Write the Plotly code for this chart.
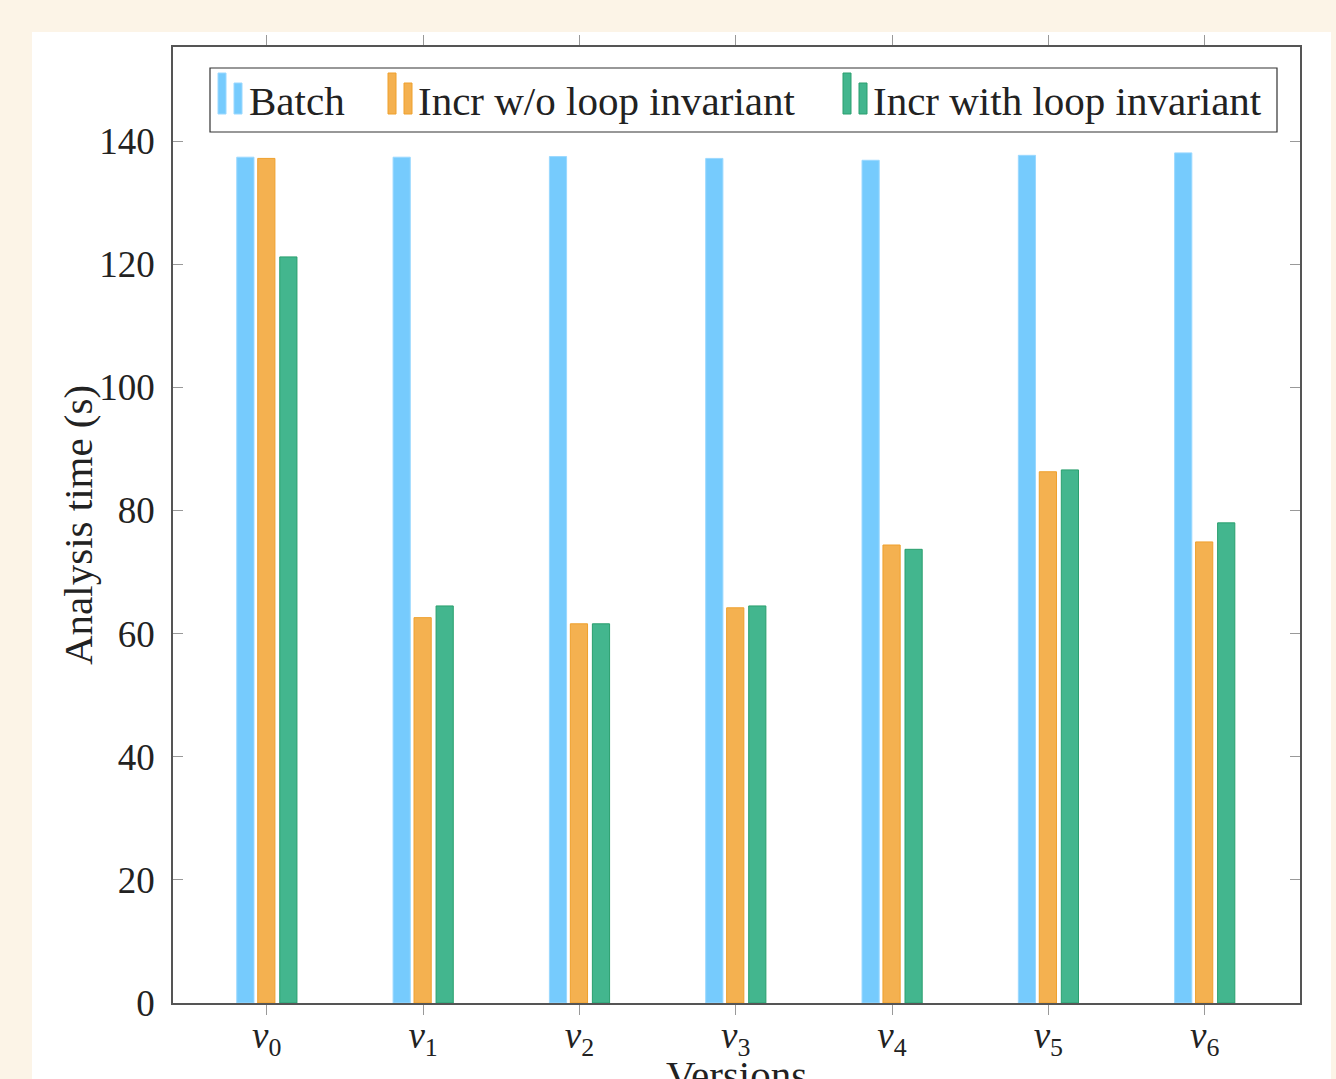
import plotly.graph_objects as go

versions = ["v0", "v1", "v2", "v3", "v4", "v5", "v6"]
tick_labels = ["<i>v</i><sub>0</sub>", "<i>v</i><sub>1</sub>", "<i>v</i><sub>2</sub>",
               "<i>v</i><sub>3</sub>", "<i>v</i><sub>4</sub>", "<i>v</i><sub>5</sub>",
               "<i>v</i><sub>6</sub>"]
batch = [137.4, 137.4, 137.5, 137.2, 136.9, 137.7, 138.1]
incr_wo = [137.2, 62.6, 61.6, 64.2, 74.4, 86.3, 74.9]
incr_with = [121.2, 64.5, 61.6, 64.5, 73.7, 86.6, 78.0]
y_ticks = [0, 20, 40, 60, 80, 100, 120, 140]

series_names = ["Batch", "Incr w/o loop invariant", "Incr with loop invariant"]
fills = ["#76CBFD", "#F4B150", "#43B68E"]
borders = ["#9AD8FF", "#EFA02D", "#2A9F6E"]
offsets = [-0.192, -0.058, 0.083]

FONT = "Liberation Serif"
xs = list(range(len(versions)))

fig = go.Figure()
for vals, name, fc, bc, off in zip([batch, incr_wo, incr_with], series_names, fills, borders, offsets):
    fig.add_trace(go.Bar(
        x=xs, y=vals, name=name, width=0.11, offset=off,
        marker=dict(color=fc, line=dict(color=bc, width=1)),
        showlegend=False,
    ))

L, R, T, B = 173, 36, 47, 76
W, H = 1336, 1079
pw, ph = W - L - R, H - T - B

def px_x(p):
    return (p - L) / pw

def px_y(p):
    return (H - B - p) / ph

shapes = []
# white panel
shapes.append(dict(type="rect", xref="paper", yref="paper", layer="below",
                   x0=px_x(32), x1=px_x(1331), y0=px_y(1079 + 20), y1=px_y(32),
                   fillcolor="white", line=dict(width=0)))
# legend box
shapes.append(dict(type="rect", xref="paper", yref="paper",
                   x0=px_x(210), x1=px_x(1277), y0=px_y(132), y1=px_y(68),
                   fillcolor="rgba(255,255,255,0)", line=dict(color="#333333", width=1.2)))
annotations = []
leg_icon_x = [218, 388, 843]
leg_text_x = [247, 416, 871]
for ix, tx, name, fc, bc in zip(leg_icon_x, leg_text_x, series_names, fills, borders):
    shapes.append(dict(type="rect", xref="paper", yref="paper",
                       x0=px_x(ix), x1=px_x(ix + 8), y0=px_y(114), y1=px_y(73),
                       fillcolor=fc, line=dict(color=bc, width=1)))
    shapes.append(dict(type="rect", xref="paper", yref="paper",
                       x0=px_x(ix + 16), x1=px_x(ix + 24), y0=px_y(114), y1=px_y(83),
                       fillcolor=fc, line=dict(color=bc, width=1)))
    annotations.append(dict(text=name, xref="paper", yref="paper",
                            x=px_x(tx), y=px_y(101), xanchor="left", yanchor="middle",
                            showarrow=False, font=dict(family=FONT, size=41, color="#222222")))

annotations.append(dict(text="Analysis time (s)", xref="paper", yref="paper",
                        x=px_x(78), y=px_y(525), textangle=-90, xanchor="center", yanchor="middle",
                        showarrow=False, font=dict(family=FONT, size=41, color="#222222")))
annotations.append(dict(text="Versions", xref="paper", yref="paper",
                        x=px_x(736), y=px_y(1050), xanchor="center", yanchor="top",
                        showarrow=False, font=dict(family=FONT, size=41, color="#222222")))

fig.update_layout(
    width=W, height=H,
    margin=dict(l=L, r=R, t=T, b=B, pad=0, autoexpand=False),
    paper_bgcolor="#FCF4E7",
    plot_bgcolor="white",
    barmode="overlay",
    shapes=shapes,
    annotations=annotations,
    font=dict(family=FONT, color="#222222"),
    xaxis=dict(
        range=[-0.6, 6.61], tickmode="array", tickvals=xs, ticktext=tick_labels,
        ticks="outside", ticklen=10, tickcolor="#999999", tickwidth=1,
        showline=True, linecolor="#555555", linewidth=1.5, mirror="ticks",
        showgrid=False, zeroline=False, automargin=False, ticklabelstandoff=-11,
        tickfont=dict(family=FONT, size=37, color="#222222"),
    ),
    yaxis=dict(
        range=[0, 155.3], tickmode="array", tickvals=y_ticks,
        ticktext=[str(v) for v in y_ticks],
        ticks="inside", ticklen=10, tickcolor="#999999", tickwidth=1,
        showline=True, linecolor="#555555", linewidth=1.5, mirror="ticks",
        showgrid=False, zeroline=False, automargin=False, ticklabelstandoff=9,
        tickfont=dict(family=FONT, size=37, color="#222222"),
    ),
)

fig.write_html(
    "out.html",
    config={"displayModeBar": False},
    post_script="document.body.style.margin='0px';document.body.style.padding='0px';"
                "document.body.style.background='#FCF4E7';",
)
